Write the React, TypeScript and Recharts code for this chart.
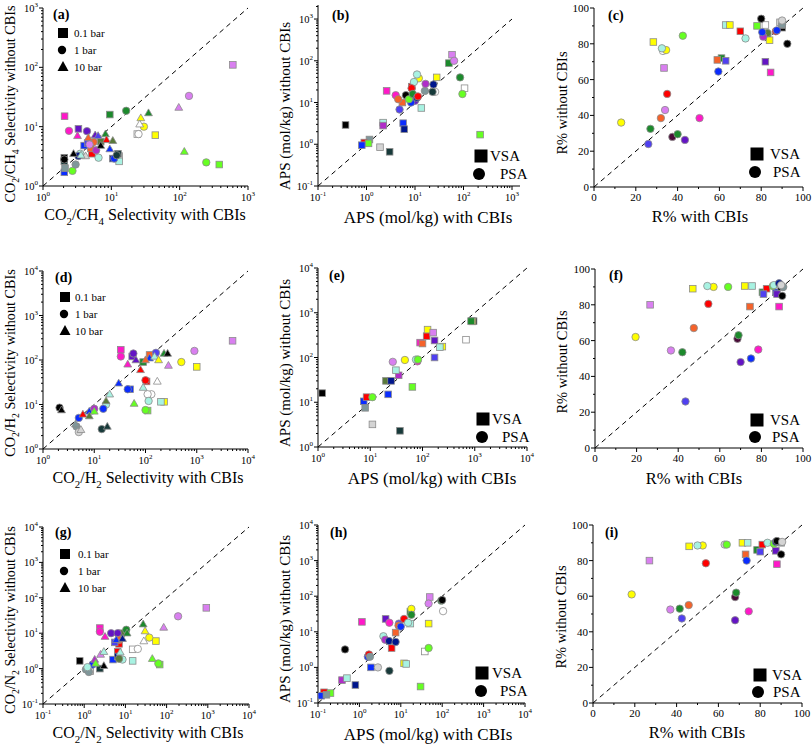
import React from 'react';
import { ScatterChart, Scatter, XAxis, YAxis, ReferenceLine } from 'recharts';

type Shape = 'S' | 'C' | 'T';
type Pt = [number, number, Shape, string];

// material palette (each colour identifies one adsorbent)
const MATERIAL_COLORS: Record<string, string> = {
  K: '#000000', DS: '#173a3a', SG: '#7f979a', LG: '#d4d4d4', W: '#ffffff',
  PC: '#a8f2e2', Y: '#ffff00', L: '#66ff22', G: '#1c8a2c', O: '#d97ff0',
  M: '#ff18c8', P: '#6414c4', BV: '#5040f0', B: '#0a2cff', N: '#00168c',
  R: '#ff0000', OR: '#f5622a', MR: '#4a0a38', OL: '#5a7a3a', PM: '#b02ec8',
};

// (a) CO2/CH4 selectivity
const dataA: Pt[] = [
  [2.07, 15, 'S', 'M'], [3.3, 9.2, 'S', 'P'], [9.5, 16, 'S', 'G'], [600, 110, 'S', 'O'], [380, 2.3, 'S', 'L'],
  [44, 7.2, 'S', 'Y'], [24, 7.5, 'S', 'W'], [2.05, 3.0, 'S', 'K'], [2.05, 2.6, 'S', 'DS'], [2.05, 1.7, 'S', 'B'],
  [2.1, 2.0, 'S', 'SG'], [4.0, 4.8, 'S', 'B'], [5.2, 3.5, 'S', 'R'], [5.0, 4.3, 'S', 'OR'], [4.5, 5.3, 'S', 'BV'],
  [13, 3.2, 'S', 'LG'], [13, 2.6, 'S', 'PC'], [10.5, 2.9, 'S', 'N'], [7, 5.6, 'S', 'OL'], [12.5, 3.5, 'S', 'DS'],
  [16.5, 18.5, 'C', 'G'], [137, 33, 'C', 'O'], [245, 2.5, 'C', 'L'], [30, 10, 'C', 'Y'], [25, 7.5, 'C', 'W'],
  [2.4, 8.5, 'C', 'M'], [4.4, 8.4, 'C', 'P'], [2.05, 2.8, 'C', 'K'], [2.7, 1.8, 'C', 'L'], [3.0, 2.3, 'C', 'SG'],
  [3.5, 3.5, 'C', 'PC'], [6.5, 3.0, 'C', 'PC'], [11, 2.9, 'C', 'B'], [12, 3.3, 'C', 'DS'], [5.5, 5.5, 'C', 'OR'],
  [4.8, 5.0, 'C', 'O'], [3.3, 3.2, 'C', 'N'], [6, 4.0, 'C', 'PM'],
  [97, 21, 'T', 'O'], [35, 17, 'T', 'G'], [27, 14, 'T', 'Y'], [26, 11, 'T', 'W'], [117, 3.8, 'T', 'L'],
  [2.8, 3.5, 'T', 'K'], [3.2, 7.0, 'T', 'M'], [4.6, 6.5, 'T', 'OR'], [5.8, 7.2, 'T', 'P'], [8.2, 7.5, 'T', 'G'],
  [8.5, 6.0, 'T', 'R'], [10.5, 5.8, 'T', 'OL'], [9.5, 4.2, 'T', 'B'], [7.0, 4.8, 'T', 'K'], [6.4, 7.0, 'T', 'BV'],
  [4.2, 3.2, 'T', 'LG'], [3.6, 3.3, 'T', 'PC'],
];

// (b) APS CO2/CH4
const dataB: Pt[] = [
  [0.37, 2.9, 'S', 'K'], [3.0, 0.66, 'S', 'DS'], [1.9, 0.85, 'S', 'LG'], [1.15, 1.3, 'S', 'SG'], [0.9, 1.1, 'S', 'R'],
  [1.1, 1.05, 'S', 'L'], [0.8, 0.95, 'S', 'B'], [2.2, 3.3, 'S', 'PC'], [2.2, 2.8, 'S', 'PM'], [2.6, 19, 'S', 'M'],
  [5.7, 3.2, 'S', 'B'], [6, 2.3, 'S', 'N'], [13.5, 7.4, 'S', 'PC'], [28, 40, 'S', 'Y'], [58, 140, 'S', 'O'],
  [50, 88, 'S', 'G'], [105, 22, 'S', 'W'], [220, 1.7, 'S', 'L'], [5.5, 10, 'S', 'OR'], [8.6, 24, 'S', 'R'],
  [64, 100, 'C', 'O'], [85, 40, 'C', 'G'], [95, 16, 'C', 'L'], [12, 38, 'C', 'Y'], [11, 47, 'C', 'PC'],
  [9.5, 31, 'C', 'PC'], [6.5, 15, 'C', 'K'], [8.5, 22, 'C', 'R'], [24, 27, 'C', 'N'], [26, 18, 'C', 'W'],
  [23, 18, 'C', 'DS'], [16, 19, 'C', 'SG'], [16.5, 28, 'C', 'PM'], [4, 15, 'C', 'M'], [4.8, 6.8, 'C', 'BV'],
  [4.5, 12, 'C', 'OR'], [10, 11, 'C', 'P'], [8.3, 10, 'C', 'B'], [7.5, 12, 'C', 'L'], [9, 16, 'C', 'G'],
  [11, 13, 'C', 'N'], [11.5, 14, 'C', 'R'],
];

// (c) recovery CO2/CH4
const dataC: Pt[] = [
  [28.4, 81, 'S', 'Y'], [33.5, 66.5, 'S', 'O'], [63, 90.5, 'S', 'PC'], [65, 90.5, 'S', 'Y'], [70, 87, 'S', 'R'],
  [61, 72, 'S', 'G'], [59, 71, 'S', 'OR'], [63, 70.5, 'S', 'BV'], [78, 90, 'S', 'L'], [82, 90.5, 'S', 'W'],
  [83, 85, 'S', 'OL'], [84, 82, 'S', 'Y'], [82, 70, 'S', 'P'], [84.5, 64, 'S', 'M'], [90, 89, 'S', 'K'],
  [90, 90.5, 'S', 'SG'], [89, 92, 'S', 'LG'],
  [13, 36, 'C', 'Y'], [42.5, 84.5, 'C', 'L'], [33, 76, 'C', 'W'], [34.5, 76.5, 'C', 'Y'], [32.5, 77.5, 'C', 'PC'],
  [35, 52, 'C', 'R'], [34, 43, 'C', 'O'], [32, 38.5, 'C', 'OR'], [27, 32.5, 'C', 'G'], [26, 24, 'C', 'BV'],
  [37.5, 28, 'C', 'MR'], [40, 29.5, 'C', 'G'], [43.5, 26.3, 'C', 'P'], [50.5, 38.5, 'C', 'M'], [59.5, 64.5, 'C', 'B'],
  [72.5, 83, 'C', 'PC'], [80, 94, 'C', 'K'], [92.5, 80, 'C', 'K'], [83, 86, 'C', 'OL'], [81, 84, 'C', 'PM'],
  [80.5, 86.5, 'C', 'B'], [87, 87, 'C', 'R'], [87.5, 87.5, 'C', 'B'], [90, 91, 'C', 'SG'], [90, 93, 'C', 'LG'],
];

// (d) CO2/H2 selectivity
const dataD: Pt[] = [
  [5000, 270, 'S', 'O'], [1000, 70, 'S', 'Y'], [230, 11.5, 'S', 'Y'], [200, 11.5, 'S', 'PC'], [110, 7.3, 'S', 'L'],
  [105, 33, 'S', 'R'], [50, 22, 'S', 'B'], [33, 170, 'S', 'M'], [55, 120, 'S', 'P'], [90, 90, 'S', 'G'],
  [120, 130, 'S', 'OR'],
  [500, 90, 'C', 'Y'], [900, 160, 'C', 'O'], [130, 17, 'C', 'W'], [110, 17, 'C', 'W'], [115, 12, 'C', 'PC'],
  [100, 7.5, 'C', 'L'], [100, 35, 'C', 'R'], [45, 22, 'C', 'B'], [2.1, 8.5, 'C', 'K'], [14, 2.8, 'C', 'DS'],
  [4.5, 3.2, 'C', 'SG'], [5, 2.4, 'C', 'LG'], [17, 10, 'C', 'PC'], [15, 8, 'C', 'B'], [5, 5, 'C', 'B'],
  [33, 120, 'C', 'M'], [58, 140, 'C', 'P'], [160, 145, 'C', 'BV'], [10, 8, 'C', 'PM'],
  [170, 33, 'T', 'W'], [60, 10.5, 'T', 'L'], [90, 24, 'T', 'PC'], [30, 30, 'T', 'B'], [2.3, 7.5, 'T', 'K'],
  [18, 3.2, 'T', 'DS'], [5.5, 2.7, 'T', 'LG'], [4.3, 3.6, 'T', 'SG'], [20, 17, 'T', 'PC'], [17, 12, 'T', 'OL'],
  [6, 6, 'T', 'R'], [8, 7, 'T', 'B'], [10, 7, 'T', 'L'], [8, 5.5, 'T', 'OL'], [45, 80, 'T', 'M'],
  [65, 100, 'T', 'P'], [80, 60, 'T', 'R'], [120, 110, 'T', 'B'], [150, 120, 'T', 'PC'], [100, 100, 'T', 'OR'],
  [230, 140, 'T', 'G'], [270, 140, 'T', 'K'], [180, 100, 'T', 'Y'], [280, 75, 'T', 'O'],
];

// (e) APS CO2/H2
const dataE: Pt[] = [
  [1.2, 16, 'S', 'K'], [37, 2.3, 'S', 'DS'], [11, 3.2, 'S', 'LG'], [8, 7.5, 'S', 'SG'], [7.5, 10.5, 'S', 'B'],
  [8.5, 13, 'S', 'R'], [22, 15, 'S', 'B'], [20, 30, 'S', 'OL'], [25, 30, 'S', 'N'], [35, 40, 'S', 'PM'],
  [31, 52, 'S', 'PC'], [64, 22, 'S', 'L'], [90, 215, 'S', 'M'], [100, 205, 'S', 'OR'], [120, 300, 'S', 'R'],
  [125, 420, 'S', 'Y'], [160, 360, 'S', 'O'], [170, 240, 'S', 'P'], [170, 100, 'S', 'BV'], [240, 175, 'S', 'Y'],
  [215, 170, 'S', 'PC'], [680, 250, 'S', 'W'], [950, 650, 'S', 'K'], [900, 640, 'S', 'Y'], [850, 650, 'S', 'G'],
  [11, 13, 'C', 'L'], [27, 80, 'C', 'O'], [46, 88, 'C', 'Y'], [80, 82, 'C', 'M'], [75, 90, 'C', 'PC'],
  [82, 90, 'C', 'L'],
];

// (f) recovery CO2/H2
const dataF: Pt[] = [
  [26.5, 80, 'S', 'O'], [47, 89, 'S', 'Y'], [72, 90.5, 'S', 'Y'], [75.5, 90.5, 'S', 'PC'], [74.5, 79, 'S', 'OR'],
  [80.5, 87, 'S', 'G'], [82.5, 89, 'S', 'R'], [81, 86, 'S', 'BV'], [88.5, 79, 'S', 'M'], [87, 87, 'S', 'B'],
  [87.5, 86, 'S', 'P'], [89.5, 90, 'S', 'K'],
  [19.5, 62, 'C', 'Y'], [36.5, 54.5, 'C', 'O'], [42, 53.5, 'C', 'G'], [47.5, 67, 'C', 'OR'], [54.5, 80.5, 'C', 'R'],
  [57, 90, 'C', 'Y'], [54, 90.5, 'C', 'PC'], [64, 90, 'C', 'L'], [43.5, 26, 'C', 'BV'], [68.5, 61, 'C', 'MR'],
  [69, 63, 'C', 'G'], [70, 48, 'C', 'P'], [75, 50, 'C', 'B'], [78.5, 55, 'C', 'M'], [85.5, 90.5, 'C', 'L'],
  [86, 91, 'C', 'PC'], [88.5, 92, 'C', 'N'], [90, 85, 'C', 'K'], [90.5, 90, 'C', 'SG'], [89.5, 91, 'C', 'LG'],
];

// (g) CO2/N2 selectivity
const dataG: Pt[] = [
  [920, 52, 'S', 'O'], [55, 6, 'S', 'Y'], [15, 3.5, 'S', 'W'], [15, 1.65, 'S', 'PC'], [68, 1.3, 'S', 'L'],
  [0.78, 1.65, 'S', 'K'], [2.4, 14, 'S', 'M'], [7, 5, 'S', 'R'], [5.5, 5.5, 'S', 'BV'], [6.5, 3, 'S', 'R'],
  [5, 1.8, 'S', 'B'], [6.5, 2.2, 'S', 'N'], [2.4, 1.0, 'S', 'DS'], [1.4, 0.85, 'S', 'LG'], [8, 10, 'S', 'OL'],
  [190, 30, 'C', 'O'], [38, 7.5, 'C', 'Y'], [20, 3.6, 'C', 'W'], [63, 1.4, 'C', 'L'], [2.4, 11, 'C', 'M'],
  [4.5, 10, 'C', 'P'], [6.5, 10, 'C', 'P'], [10.5, 12.5, 'C', 'G'], [7.2, 6.5, 'C', 'OR'], [8.5, 1.8, 'C', 'PC'],
  [7, 1.9, 'C', 'OL'], [1.1, 0.95, 'C', 'SG'], [1.3, 0.8, 'C', 'SG'], [1.6, 1.3, 'C', 'B'], [1.2, 1.1, 'C', 'PC'],
  [85, 14.5, 'T', 'O'], [27, 18, 'T', 'G'], [30, 11.5, 'T', 'Y'], [28, 6, 'T', 'W'], [45, 1.9, 'T', 'L'],
  [3.2, 8, 'T', 'M'], [11, 10, 'T', 'G'], [6, 6.5, 'T', 'B'], [7.5, 2.9, 'T', 'PC'], [3.0, 1.2, 'T', 'K'],
  [1.8, 1.8, 'T', 'PM'], [2.5, 2.5, 'T', 'O'], [3, 3, 'T', 'PC'], [1.9, 1.4, 'T', 'L'], [8.5, 7, 'T', 'N'],
];

// (h) APS CO2/N2
const dataH: Pt[] = [
  [1.15, 19, 'S', 'M'], [4.3, 23, 'S', 'P'], [50, 95, 'S', 'O'], [47, 17, 'S', 'Y'], [38, 2.8, 'S', 'W'],
  [30, 0.29, 'S', 'L'], [12, 1.3, 'S', 'Y'], [13.5, 1.25, 'S', 'PC'], [1.9, 1.0, 'S', 'B'], [0.8, 0.32, 'S', 'N'],
  [0.38, 0.44, 'S', 'PM'], [0.5, 0.5, 'S', 'PC'], [0.14, 0.2, 'S', 'R'], [0.2, 0.19, 'S', 'L'], [0.12, 0.16, 'S', 'B'],
  [0.16, 0.17, 'S', 'SG'], [6, 3.5, 'S', 'R'], [7.5, 9.5, 'S', 'OR'], [17, 17, 'S', 'PC'], [17, 37, 'S', 'G'],
  [0.45, 3.2, 'C', 'K'], [47, 62, 'C', 'O'], [95, 75, 'C', 'G'], [100, 78, 'C', 'K'], [105, 38, 'C', 'W'],
  [18, 44, 'C', 'Y'], [47, 3.5, 'C', 'L'], [5.3, 0.8, 'C', 'DS'], [2.8, 1.0, 'C', 'LG'], [1.6, 2.0, 'C', 'B'],
  [1.7, 2.3, 'C', 'R'], [1.8, 2.0, 'C', 'SG'], [3.8, 7.5, 'C', 'PC'], [4.2, 6, 'C', 'PM'], [5.2, 5.5, 'C', 'N'],
  [7.5, 5.2, 'C', 'N'], [9, 17, 'C', 'BV'], [8.8, 15, 'C', 'OR'], [5.3, 18, 'C', 'M'], [12, 23, 'C', 'R'],
  [18, 30, 'C', 'G'], [15, 18, 'C', 'PC'], [10, 14, 'C', 'B'],
];

// (i) recovery CO2/N2
const dataI: Pt[] = [
  [27, 80, 'S', 'O'], [46, 88, 'S', 'Y'], [71.5, 90, 'S', 'Y'], [74, 90, 'S', 'PC'], [73, 83.5, 'S', 'OR'],
  [78.5, 86, 'S', 'G'], [80, 85, 'S', 'BV'], [81, 89, 'S', 'R'], [88, 78, 'S', 'M'], [87.5, 85.5, 'S', 'P'],
  [90, 90, 'S', 'SG'],
  [18.5, 61, 'C', 'Y'], [37, 52.5, 'C', 'O'], [41.5, 53, 'C', 'G'], [45.8, 55, 'C', 'OR'], [42.5, 47.5, 'C', 'BV'],
  [54, 78.5, 'C', 'R'], [52.5, 88.5, 'C', 'Y'], [50, 88.5, 'C', 'PC'], [63, 89, 'C', 'LG'], [64, 89, 'C', 'L'],
  [68, 59.5, 'C', 'MR'], [68.5, 62, 'C', 'G'], [68, 46.5, 'C', 'P'], [74.5, 51.5, 'C', 'M'], [73.5, 80, 'C', 'B'],
  [83.5, 90, 'C', 'PC'], [86.5, 89.5, 'C', 'L'], [87.5, 90.5, 'C', 'N'], [88, 91, 'C', 'K'], [90, 83.5, 'C', 'K'],
  [90.5, 90.5, 'C', 'LG'],
];

const LINEAR_TICKS = [0, 10, 20, 30, 40, 50, 60, 70, 80, 90, 100];
const PANEL_LETTERS = ['(a)', '(b)', '(c)', '(d)', '(e)', '(f)', '(g)', '(h)', '(i)'];
const PRESSURE_LABELS = ['0.1 bar', '1 bar', '10 bar'];
const PROCESS_LABELS = ['VSA', 'PSA'];

const FONT = '"Liberation Serif", "Times New Roman", serif';
const ML = 45;
const MT = 15;

function logTicks(lo: number, hi: number): number[] {
  const out: number[] = [];
  for (let e = Math.floor(Math.log10(lo)); e <= Math.ceil(Math.log10(hi)); e++) {
    for (let m = 1; m < 10; m++) {
      const v = m * Math.pow(10, e);
      if (v >= lo * 0.999 && v <= hi * 1.001) out.push(v);
    }
  }
  return out;
}
const isPow10 = (v: number) => Math.abs(Math.log10(v) - Math.round(Math.log10(v))) < 1e-6;

const makeXTick = (axisY: number, log: boolean) => (p: any) => {
  const v = p.payload.value;
  const x = p.x;
  const major = log ? isPow10(v) : Math.round(v) % 20 === 0;
  return (
    <g>
      <line x1={x} x2={x} y1={axisY} y2={axisY + (major ? 4 : 2)} stroke="#000" strokeWidth={1} />
      {major && log && (
        <text x={x} y={axisY + 15} textAnchor="middle" fontSize={10.5} fontFamily={FONT} fill="#000">
          10<tspan dy={-5} fontSize={7}>{Math.round(Math.log10(v))}</tspan>
        </text>
      )}
      {major && !log && (
        <text x={x} y={axisY + 14} textAnchor="middle" fontSize={11} fontFamily={FONT} fill="#000">{v}</text>
      )}
    </g>
  );
};

const makeYTick = (axisX: number, log: boolean) => (p: any) => {
  const v = p.payload.value;
  const y = p.y;
  const major = log ? isPow10(v) : Math.round(v) % 20 === 0;
  return (
    <g>
      <line x1={axisX - (major ? 4 : 2)} x2={axisX} y1={y} y2={y} stroke="#000" strokeWidth={1} />
      {major && log && (
        <text x={axisX - 5} y={y + 4} textAnchor="end" fontSize={10.5} fontFamily={FONT} fill="#000">
          10<tspan dy={-5} fontSize={7}>{Math.round(Math.log10(v))}</tspan>
        </text>
      )}
      {major && !log && (
        <text x={axisX - 5} y={y + 4} textAnchor="end" fontSize={11} fontFamily={FONT} fill="#000">{v}</text>
      )}
    </g>
  );
};

const renderMarker = (props: any) => {
  const { cx, cy, payload } = props;
  if (cx == null || cy == null) return <g />;
  const fill = MATERIAL_COLORS[payload.m] || '#000';
  const stroke = '#8c8c8c';
  if (payload.s === 'S') {
    return <rect x={cx - 3.3} y={cy - 3.3} width={6.6} height={6.6} fill={fill} stroke={stroke} strokeWidth={0.8} />;
  }
  if (payload.s === 'T') {
    const h = 6.8;
    const w = 7.8;
    return (
      <path d={`M${cx},${cy - h * 0.6} L${cx + w / 2},${cy + h * 0.4} L${cx - w / 2},${cy + h * 0.4} Z`}
        fill={fill} stroke={stroke} strokeWidth={0.8} />
    );
  }
  return <circle cx={cx} cy={cy} r={3.7} fill={fill} stroke={stroke} strokeWidth={0.8} />;
};

type Cfg = {
  l: number; t: number; w: number; h: number;
  xLog: boolean; yLog: boolean;
  xDom: [number, number]; yDom: [number, number];
  diag: [number, number];
  data: Pt[];
};

const PANELS: Cfg[] = [
  { l: 43, t: 8, w: 205, h: 178, xLog: true, yLog: true, xDom: [1, 1000], yDom: [1, 1000], diag: [1, 1000], data: dataA },
  { l: 318, t: 5, w: 202, h: 181, xLog: true, yLog: true, xDom: [0.1, 1462], yDom: [0.1, 2170], diag: [0.1, 1000], data: dataB },
  { l: 594, t: 8, w: 209, h: 179, xLog: false, yLog: false, xDom: [0, 100], yDom: [0, 100], diag: [0, 100], data: dataC },
  { l: 43, t: 271, w: 205, h: 178, xLog: true, yLog: true, xDom: [1, 10000], yDom: [1, 10000], diag: [1, 10000], data: dataD },
  { l: 318, t: 268, w: 209, h: 179, xLog: true, yLog: true, xDom: [1, 10000], yDom: [1, 10000], diag: [1, 10000], data: dataE },
  { l: 595, t: 269, w: 208, h: 179, xLog: false, yLog: false, xDom: [0, 100], yDom: [0, 100], diag: [0, 100], data: dataF },
  { l: 43, t: 527, w: 206, h: 177, xLog: true, yLog: true, xDom: [0.1, 10000], yDom: [0.1, 10000], diag: [0.1, 10000], data: dataG },
  { l: 318, t: 525, w: 207, h: 178, xLog: true, yLog: true, xDom: [0.1, 10000], yDom: [0.1, 10000], diag: [0.1, 10000], data: dataH },
  { l: 593, t: 525, w: 209, h: 178, xLog: false, yLog: false, xDom: [0, 100], yDom: [0, 100], diag: [0, 100], data: dataI },
];

function Panel({ cfg }: { cfg: Cfg }) {
  const { l, t, w, h, xLog, yLog, xDom, yDom, diag, data } = cfg;
  const W = ML + w + 10;
  const H = MT + h + 30;
  const axisY = MT + h;
  const pts = data.map(([x, y, s, m]) => ({ x, y, s, m }));
  const xTicks = xLog ? logTicks(xDom[0], xDom[1]) : LINEAR_TICKS;
  const yTicks = yLog ? logTicks(yDom[0], yDom[1]) : LINEAR_TICKS;
  return (
    <div style={{ position: 'absolute', left: l - ML, top: t - MT, width: W, height: H }}>
      <ScatterChart width={W} height={H} margin={{ top: MT, right: 10, bottom: 0, left: 0 }}>
        <XAxis type="number" dataKey="x" scale={xLog ? 'log' : 'linear'} domain={xDom} ticks={xTicks}
          interval={0} allowDataOverflow tick={makeXTick(axisY, xLog)} tickLine={false}
          axisLine={{ stroke: '#000', strokeWidth: 1 }} height={30} />
        <YAxis type="number" dataKey="y" scale={yLog ? 'log' : 'linear'} domain={yDom} ticks={yTicks}
          interval={0} allowDataOverflow tick={makeYTick(ML, yLog)} tickLine={false}
          axisLine={{ stroke: '#000', strokeWidth: 1 }} width={ML} />
        <ReferenceLine segment={[{ x: diag[0], y: diag[0] }, { x: diag[1], y: diag[1] }]}
          stroke="#000" strokeWidth={1} strokeDasharray="5 4" />
        <Scatter data={pts} shape={renderMarker} isAnimationActive={false} />
      </ScatterChart>
    </div>
  );
}

type Part = [string, boolean];
function RichText({ parts, x, y, size, rotate }: { parts: Part[]; x: number; y: number; size: number; rotate?: boolean }) {
  const shift = size * 0.3;
  let cur = 0;
  const spans = parts.map(([txt, sub], i) => {
    const target = sub ? shift : 0;
    const dy = target - cur;
    cur = target;
    return <tspan key={i} dy={dy} fontSize={sub ? size * 0.68 : size}>{txt}</tspan>;
  });
  return (
    <text x={x} y={y} textAnchor="middle" fontFamily={FONT} fontSize={size} fill="#000"
      transform={rotate ? `rotate(-90 ${x} ${y})` : undefined}>
      {spans}
    </text>
  );
}

const T_CH4_X: Part[] = [['CO', false], ['2', true], ['/CH', false], ['4', true], [' Selectivity with CBIs', false]];
const T_CH4_Y: Part[] = [['CO', false], ['2', true], ['/CH', false], ['4', true], [' Selectivity without CBIs', false]];
const T_H2_X: Part[] = [['CO', false], ['2', true], ['/H', false], ['2', true], [' Selectivity with CBIs', false]];
const T_H2_Y: Part[] = [['CO', false], ['2', true], ['/H', false], ['2', true], [' Selectivity without CBIs', false]];
const T_N2_X: Part[] = [['CO', false], ['2', true], ['/N', false], ['2', true], [' Selectivity with CBIs', false]];
const T_N2_Y: Part[] = [['CO', false], ['2', true], ['/N', false], ['2', true], [' Selectivity without CBIs', false]];
const T_APS_X: Part[] = [['APS (mol/kg) with CBIs', false]];
const T_APS_Y: Part[] = [['APS (mol/kg) without CBIs', false]];
const T_R_X: Part[] = [['R% with CBIs', false]];
const T_R_Y: Part[] = [['R% without CBIs', false]];

function PressureLegend({ x, y, tx }: { x: number; y: number; tx: number }) {
  return (
    <g>
      <rect x={x - 5} y={y - 5} width={10} height={10} fill="#000" />
      <circle cx={x - 1} cy={y + 17} r={4.2} fill="#000" />
      <path d={`M${x},${y + 28} L${x + 5.5},${y + 38} L${x - 5.5},${y + 38} Z`} fill="#000" />
      {PRESSURE_LABELS.map((t, i) => (
        <text key={t} x={tx} y={y + 4 + i * 17} fontFamily={FONT} fontSize={11} fill="#000">{t}</text>
      ))}
    </g>
  );
}

function ProcessLegend({ sx, sy, cx, cy, vx, px }: { sx: number; sy: number; cx: number; cy: number; vx: number; px: number }) {
  return (
    <g>
      <rect x={sx - 6.5} y={sy - 6.5} width={13} height={13} fill="#000" />
      <circle cx={cx} cy={cy} r={6} fill="#000" />
      <text x={vx} y={sy + 5} fontFamily={FONT} fontSize={15} fill="#000">{PROCESS_LABELS[0]}</text>
      <text x={px} y={cy + 5} fontFamily={FONT} fontSize={15} fill="#000">{PROCESS_LABELS[1]}</text>
    </g>
  );
}

const LETTER_POS: [number, number][] = [
  [53, 19], [332, 20], [608, 20], [55, 282], [329, 280], [609, 280], [55, 537], [330, 537], [605, 537],
];

export default function App() {
  return (
    <div style={{ position: 'absolute', left: 0, top: 0, width: 812, height: 746, background: '#fff', overflow: 'hidden' }}>
      {PANELS.map((p, i) => <Panel key={i} cfg={p} />)}
      <svg width={812} height={746} style={{ position: 'absolute', left: 0, top: 0, pointerEvents: 'none' }}>
        {PANEL_LETTERS.map((t, i) => (
          <text key={t} x={LETTER_POS[i][0]} y={LETTER_POS[i][1]} fontFamily={FONT} fontSize={14} fontWeight="bold" fill="#000">{t}</text>
        ))}
        <RichText parts={T_CH4_X} x={145} y={220} size={16} />
        <RichText parts={T_CH4_Y} x={15} y={104} size={14.2} rotate />
        <RichText parts={T_APS_X} x={428} y={223} size={17} />
        <RichText parts={T_APS_Y} x={290} y={106} size={15} rotate />
        <RichText parts={T_R_X} x={700} y={222} size={16.5} />
        <RichText parts={T_R_Y} x={567} y={103} size={14.5} rotate />

        <RichText parts={T_H2_X} x={148} y={483} size={16} />
        <RichText parts={T_H2_Y} x={15} y={363} size={14.2} rotate />
        <RichText parts={T_APS_X} x={432} y={484} size={17} />
        <RichText parts={T_APS_Y} x={290} y={363} size={15} rotate />
        <RichText parts={T_R_X} x={694} y={484} size={16.5} />
        <RichText parts={T_R_Y} x={567} y={362} size={14.5} rotate />

        <RichText parts={T_N2_X} x={148} y={738} size={16} />
        <RichText parts={T_N2_Y} x={15} y={620} size={14.2} rotate />
        <RichText parts={T_APS_X} x={428} y={740} size={17} />
        <RichText parts={T_APS_Y} x={290} y={619} size={15} rotate />
        <RichText parts={T_R_X} x={697} y={738} size={16.5} />
        <RichText parts={T_R_Y} x={566} y={617} size={14.5} rotate />

        <PressureLegend x={63} y={33} tx={74} />
        <PressureLegend x={65} y={297} tx={75} />
        <PressureLegend x={65} y={554} tx={78} />

        <ProcessLegend sx={481} sy={156} cx={479} cy={174} vx={490} px={500} />
        <ProcessLegend sx={757} sy={154} cx={755} cy={172} vx={770} px={773} />
        <ProcessLegend sx={483} sy={419} cx={482} cy={437} vx={492} px={502} />
        <ProcessLegend sx={757} sy={420} cx={755} cy={437} vx={770} px={772} />
        <ProcessLegend sx={482} sy={673} cx={481} cy={691} vx={492} px={500} />
        <ProcessLegend sx={760} sy={675} cx={758} cy={692} vx={772} px={773} />
      </svg>
    </div>
  );
}
